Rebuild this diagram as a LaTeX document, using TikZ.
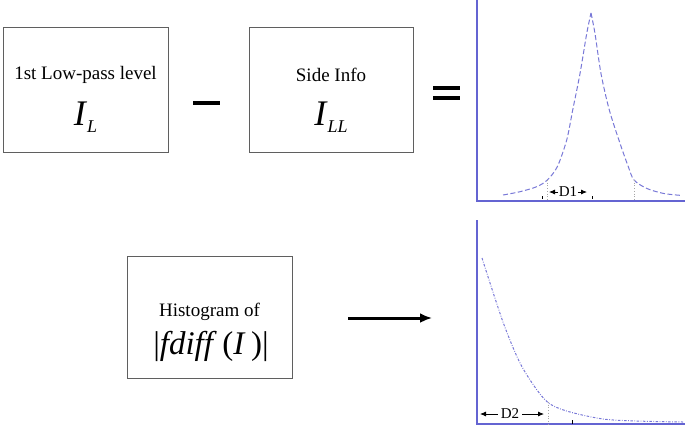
\documentclass[tikz,border=0pt]{standalone}
\usepackage{fontspec}
\setmainfont{Liberation Serif}
\usetikzlibrary{arrows.meta}
\definecolor{axisblue}{RGB}{100,100,210}
\definecolor{curveblue}{RGB}{120,120,215}
\definecolor{boxgray}{RGB}{95,95,95}
\newcommand{\symsub}[2]{\textit{#1}\raisebox{-0.4ex}{\fontsize{18}{18}\selectfont\textit{#2}}}
\tikzset{
	infobox/.style={draw=boxgray,line width=0.9pt,inner sep=0pt,minimum width=165pt,minimum height=125pt},
	boxtext/.style={inner sep=0pt,font=\fontsize{19}{22}\selectfont},
	bigtext/.style={inner sep=0pt,font=\fontsize{36}{38}\selectfont},
	axisline/.style={draw=axisblue,line width=1.3pt},
	peakcurve/.style={draw=curveblue,line width=1pt,dash pattern=on 5pt off 2.5pt},
	decaycurve/.style={draw=curveblue,line width=1pt,dash pattern=on 2.5pt off 1.5pt on 0.8pt off 1.5pt},
	guide/.style={draw=gray!70,line width=0.7pt,dotted},
	dimtext/.style={inner sep=0.5pt,font=\fontsize{15}{15}\selectfont},
	dimarrow/.style={-{Latex[length=6pt,width=5pt]},line width=0.8pt},
	opline/.style={line width=4pt}
}
\begin{document}
\begin{tikzpicture}[x=1pt,y=-1pt]
	\useasboundingbox (0,0) rectangle (685,432);
	% input boxes
	\node[infobox] (lowpass) at (85.5,89.5) {};
	\node[boxtext] (lowpasstitle) at (85.5,75) {1st Low-pass level};
	\node[bigtext] (lowpasssym) at (85.5,117) {\symsub{I}{L}};
	\node[infobox,minimum width=164pt] (sideinfo) at (331,89.5) {};
	\node[boxtext] (sideinfotitle) at (331,75) {Side Info};
	\node[bigtext] (sideinfosym) at (331,117) {\symsub{I}{LL}};
	\node[infobox,minimum height=122pt] (histo) at (209.5,317) {};
	\node[boxtext] (histotitle) at (209.5,312) {Histogram of};
	\node[inner sep=0pt,font=\fontsize{33}{36}\selectfont] (histosym) at (211,346) {|\textit{fdiff}\,(\textit{I}\,)|};
	% minus and equals
	\draw[opline] (193,103) -- (220,103);
	\draw[opline] (433,88) -- (460,88);
	\draw[opline] (433,98) -- (460,98);
	% arrow
	\coordinate (arrowtail) at (348,318);
	\coordinate (arrowtip) at (432,318);
	\draw[-{Latex[length=12pt,width=10pt]},line width=3pt] (arrowtail) -- (arrowtip);
	% upper plot
	\draw[axisline] (477,0) -- (477,201) -- (685,201);
	\draw[peakcurve] plot[smooth] coordinates {(503,195) (520,191.7) (536.7,186.7) (547.3,180) (557.3,166.7) (566.7,140) (572.7,110) (580,73.6) (586.7,33.6) (591,13)};
	\draw[peakcurve] plot[smooth] coordinates {(591,13) (595,33.6) (601,73.6) (609.3,110) (620,143.3) (628.3,166.7) (634,180) (646.7,188.4) (663.3,193.4) (680,195.3)};
	\draw[guide] (547,180) -- (547,201);
	\draw[guide] (634,180) -- (634,201);
	\draw[line width=0.6pt] (542,196) -- (542,199);
	\draw[line width=0.6pt] (592,196) -- (592,199);
	\node[dimtext] (done) at (568,192) {D1};
	\coordinate (doneleft) at (549,192);
	\coordinate (doneright) at (587,192);
	\draw[dimarrow] (done.west) -- (doneleft);
	\draw[dimarrow] (done.east) -- (doneright);
	% lower plot
	\draw[axisline] (477,220) -- (477,424) -- (685,424);
	\draw[decaycurve] plot[smooth] coordinates {(482,258) (503,322) (520,363) (537,390) (550,404) (570,412) (603,419) (636,421) (683,422)};
	\draw[guide] (548,402) -- (548,424);
	\draw[line width=0.6pt] (572,420) -- (572,424);
	\node[dimtext,inner sep=3pt] (dtwo) at (510,414) {D2};
	\coordinate (dtwoleft) at (480,414);
	\coordinate (dtworight) at (544,414);
	\draw[dimarrow] (dtwo.west) -- (dtwoleft);
	\draw[dimarrow] (dtwo.east) -- (dtworight);
\end{tikzpicture}
\end{document}
